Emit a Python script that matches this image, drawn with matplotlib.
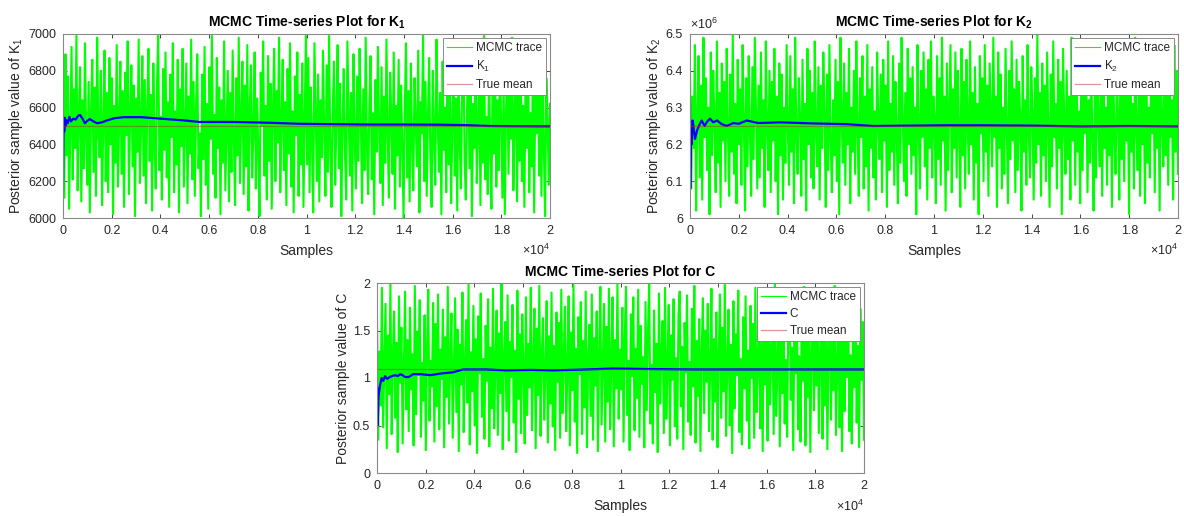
import numpy as np
import matplotlib
matplotlib.use('Agg')
import matplotlib.pyplot as plt
from matplotlib.ticker import FuncFormatter, MultipleLocator

plt.rcParams['font.family'] = ['Liberation Sans', 'DejaVu Sans']
plt.rcParams['mathtext.fontset'] = 'custom'
plt.rcParams['mathtext.rm'] = 'Liberation Sans'
plt.rcParams['mathtext.bf'] = 'Liberation Sans:bold'

# cadenas MCMC (muestras aclaradas)
k1_trace = [
    6620, 6110, 6890, 6340, 6770, 6050, 6480, 6930, 6210, 6700,
    6380, 6990, 6150, 6560, 6820, 6090, 6640, 6270, 6950, 6420,
    6180, 6740, 6030, 6590, 6860, 6250, 6710, 6120, 6980, 6460,
    6330, 6800, 6070, 6520, 6910, 6200, 6680, 6140, 6870, 6400,
    6760, 6020, 6610, 6300, 6940, 6170, 6530, 6850, 6240, 6690,
    6060, 6790, 6450, 6960, 6130, 6570, 6830, 6280, 6720, 6010,
    6650, 6360, 6970, 6190, 6500, 6880, 6230, 6750, 6080, 6600,
    6920, 6310, 6670, 6040, 6840, 6410, 6160, 6730, 6990, 6260,
    6550, 6100, 6810, 6370, 6900, 6220, 6630, 6060, 6780, 6440,
    6950, 6140, 6580, 6290, 6860, 6030, 6700, 6390, 6920, 6170,
    6510, 6840, 6080, 6660, 6350, 6970, 6210, 6740, 6120, 6600,
    6890, 6270, 6460, 6010, 6780, 6320, 6930, 6180, 6620, 6050,
    6820, 6430, 6990, 6240, 6560, 6110, 6870, 6380, 6710, 6020,
    6640, 6300, 6960, 6150, 6490, 6800, 6090, 6680, 6250, 6910,
    6420, 6070, 6760, 6340, 6980, 6190, 6540, 6850, 6130, 6720,
    6280, 6940, 6040, 6590, 6830, 6220, 6470, 6900, 6160, 6650,
    6370, 6010, 6790, 6500, 6960, 6230, 6610, 6100, 6880, 6310,
    6730, 6050, 6570, 6920, 6200, 6690, 6410, 6980, 6140, 6520,
    6860, 6260, 6630, 6070, 6810, 6350, 6950, 6170, 6580, 6030,
    6770, 6450, 6900, 6120, 6670, 6290, 6840, 6060, 6530, 6990,
    6290, 6870, 6140, 6710, 6420, 6030, 6950, 6560, 6200, 6780,
    6090, 6640, 6330, 6910, 6470, 6120, 6830, 6250, 6990, 6380,
    6060, 6600, 6850, 6180, 6520, 6940, 6270, 6730, 6010, 6490,
    6810, 6350, 6100, 6960, 6590, 6230, 6680, 6040, 6890, 6430,
    6160, 6770, 6310, 6920, 6540, 6080, 6700, 6260, 6980, 6400,
    6130, 6620, 6880, 6210, 6570, 6020, 6750, 6360, 6930, 6480,
    6190, 6820, 6070, 6660, 6300, 6970, 6450, 6110, 6790, 6550,
    6240, 6900, 6050, 6610, 6340, 6860, 6170, 6720, 6410, 6000,
    6580, 6950, 6220, 6690, 6090, 6840, 6390, 6150, 6760, 6500,
    6280, 6910, 6030, 6630, 6460, 6990, 6200, 6740, 6120, 6560,
    6870, 6320, 6060, 6800, 6440, 6180, 6970, 6530, 6250, 6680,
    6020, 6850, 6370, 6600, 6140, 6920, 6290, 6770, 6080, 6510,
    6890, 6230, 6650, 6040, 6830, 6420, 6160, 6710, 6960, 6330,
    6100, 6580, 6880, 6270, 6730, 6010, 6620, 6380, 6940, 6190,
    6470, 6810, 6070, 6690, 6300, 6990, 6210, 6550, 6130, 6860,
    6400, 6050, 6780, 6350, 6930, 6170, 6640, 6260, 6900, 6490,
    6110, 6750, 6020, 6590, 6830, 6240, 6700, 6430, 6980, 6150,
    6540, 6870, 6090, 6660, 6310, 6950, 6200, 6610, 6060, 6800,
    6380, 6920, 6140, 6570, 6280, 6840, 6030, 6720, 6460, 6970,
    6230, 6680, 6120, 6890, 6360, 6010, 6760, 6520, 6180, 6620]

# K2 en millones
k2_trace_mil = [
    6.41, 6.08, 6.33, 6.19, 6.47, 6.02, 6.28, 6.44, 6.11, 6.36,
    6.05, 6.49, 6.22, 6.38, 6.13, 6.30, 6.01, 6.45, 6.17, 6.40,
    6.26, 6.07, 6.48, 6.15, 6.34, 6.03, 6.42, 6.21, 6.37, 6.10,
    6.46, 6.24, 6.06, 6.39, 6.18, 6.50, 6.12, 6.31, 6.04, 6.43,
    6.20, 6.35, 6.09, 6.47, 6.27, 6.02, 6.38, 6.14, 6.44, 6.23,
    6.06, 6.41, 6.16, 6.49, 6.29, 6.08, 6.36, 6.11, 6.45, 6.19,
    6.32, 6.03, 6.48, 6.25, 6.13, 6.40, 6.07, 6.37, 6.21, 6.46,
    6.10, 6.33, 6.01, 6.42, 6.17, 6.39, 6.05, 6.30, 6.15, 6.47,
    6.24, 6.09, 6.44, 6.18, 6.35, 6.04, 6.49, 6.22, 6.12, 6.38,
    6.27, 6.06, 6.43, 6.16, 6.31, 6.02, 6.46, 6.20, 6.40, 6.11,
    6.34, 6.08, 6.48, 6.23, 6.14, 6.41, 6.05, 6.36, 6.19, 6.45,
    6.28, 6.03, 6.39, 6.13, 6.47, 6.21, 6.07, 6.32, 6.17, 6.43,
    6.10, 6.37, 6.01, 6.49, 6.26, 6.15, 6.42, 6.09, 6.34, 6.20,
    6.46, 6.04, 6.30, 6.18, 6.40, 6.12, 6.48, 6.24, 6.06, 6.38,
    6.22, 6.44, 6.08, 6.33, 6.14, 6.47, 6.02, 6.35, 6.19, 6.41,
    6.11, 6.29, 6.05, 6.45, 6.25, 6.16, 6.39, 6.07, 6.43, 6.21,
    6.36, 6.03, 6.48, 6.13, 6.31, 6.18, 6.44, 6.09, 6.37, 6.23,
    6.04, 6.42, 6.15, 6.49, 6.27, 6.10, 6.34, 6.06, 6.46, 6.20,
    6.38, 6.12, 6.41, 6.17, 6.30, 6.01, 6.47, 6.24, 6.08, 6.40,
    6.22, 6.45, 6.14, 6.35, 6.05, 6.43, 6.19, 6.48, 6.11, 6.33,
    6.27, 6.04, 6.44, 6.16, 6.38, 6.09, 6.49, 6.21, 6.33, 6.02,
    6.42, 6.13, 6.30, 6.47, 6.07, 6.35, 6.19, 6.45, 6.11, 6.40,
    6.24, 6.03, 6.46, 6.17, 6.37, 6.08, 6.43, 6.26, 6.12, 6.48,
    6.20, 6.34, 6.05, 6.41, 6.15, 6.31, 6.01, 6.44, 6.23, 6.38,
    6.10, 6.47, 6.18, 6.36, 6.06, 6.42, 6.28, 6.14, 6.49, 6.22,
    6.33, 6.03, 6.45, 6.19, 6.39, 6.08, 6.30, 6.12, 6.46, 6.25,
    6.04, 6.40, 6.16, 6.48, 6.21, 6.35, 6.07, 6.43, 6.13, 6.37,
    6.27, 6.02, 6.44, 6.18, 6.32, 6.09, 6.47, 6.23, 6.11, 6.41,
    6.29, 6.05, 6.38, 6.15, 6.50, 6.20, 6.34, 6.06, 6.42, 6.17,
    6.36, 6.10, 6.45, 6.24, 6.03, 6.39, 6.14, 6.48, 6.22, 6.31,
    6.08, 6.43, 6.19, 6.37, 6.01, 6.46, 6.26, 6.12, 6.40, 6.16,
    6.33, 6.05, 6.49, 6.21, 6.35, 6.09, 6.44, 6.18, 6.29, 6.04,
    6.41, 6.13, 6.47, 6.23, 6.38, 6.07, 6.32, 6.15, 6.45, 6.20,
    6.02, 6.36, 6.11, 6.48, 6.25, 6.14, 6.42, 6.06, 6.39, 6.19,
    6.30, 6.09, 6.46, 6.17, 6.34, 6.03, 6.43, 6.22, 6.12, 6.40,
    6.27, 6.05, 6.47, 6.16, 6.37, 6.10, 6.44, 6.21, 6.33, 6.01,
    6.45, 6.18, 6.31, 6.08, 6.49, 6.24, 6.13, 6.38, 6.06, 6.42,
    6.20, 6.35, 6.04, 6.46, 6.15, 6.30, 6.11, 6.43, 6.23, 6.39,
    6.07, 6.48, 6.19, 6.34, 6.02, 6.41, 6.26, 6.14, 6.45, 6.17,
    6.36, 6.09, 6.44, 6.22, 6.32, 6.05, 6.47, 6.18, 6.40, 6.12]

c_trace = [
    1.62, 0.35, 1.28, 0.71, 1.95, 0.48, 1.12, 1.78, 0.26, 1.45,
    0.83, 1.99, 0.41, 1.21, 1.70, 0.58, 1.37, 0.22, 1.86, 0.95,
    1.53, 0.31, 1.08, 1.91, 0.67, 1.40, 0.44, 1.74, 0.88, 1.25,
    0.29, 1.97, 0.62, 1.49, 1.03, 1.82, 0.38, 1.16, 0.76, 1.66,
    0.24, 1.33, 1.93, 0.55, 1.18, 0.91, 1.79, 0.33, 1.57, 0.70,
    1.88, 0.46, 1.30, 0.99, 1.72, 0.27, 1.43, 0.80, 1.96, 0.52,
    1.24, 1.68, 0.37, 1.10, 1.84, 0.64, 1.51, 0.23, 1.35, 0.93,
    1.90, 0.43, 1.14, 1.61, 0.74, 1.98, 0.30, 1.27, 0.86, 1.76,
    0.50, 1.41, 0.21, 1.65, 1.05, 1.89, 0.59, 1.20, 0.36, 1.55,
    0.97, 1.83, 0.28, 1.32, 0.68, 1.94, 0.47, 1.15, 1.71, 0.40,
    1.47, 0.84, 1.99, 0.25, 1.22, 1.59, 0.65, 1.87, 0.34, 1.38,
    1.01, 1.77, 0.53, 1.29, 0.22, 1.92, 0.78, 1.46, 0.42, 1.67,
    1.07, 0.31, 1.85, 0.61, 1.36, 0.90, 1.95, 0.45, 1.19, 1.73,
    0.26, 1.52, 0.82, 1.97, 0.39, 1.26, 1.63, 0.56, 1.09, 1.81,
    0.32, 1.44, 0.73, 1.90, 0.49, 1.34, 0.24, 1.69, 0.96, 1.58,
    0.37, 1.93, 0.63, 1.23, 1.75, 0.44, 1.11, 1.86, 0.29, 1.48,
    0.87, 1.98, 0.54, 1.31, 0.21, 1.64, 1.04, 1.80, 0.41, 1.39,
    0.69, 1.91, 0.27, 1.17, 1.56, 0.60, 1.88, 0.35, 1.42, 0.92,
    1.70, 0.23, 1.27, 1.96, 0.51, 1.13, 1.78, 0.33, 1.54, 0.75,
    1.94, 0.46, 1.21, 1.85, 0.28, 1.40, 0.89, 1.99, 0.57, 1.30,
    0.88, 1.74, 0.33, 1.42, 1.96, 0.61, 1.18, 0.24, 1.67, 1.02,
    1.85, 0.45, 1.31, 0.79, 1.93, 0.38, 1.55, 0.94, 1.22, 0.27,
    1.80, 0.66, 1.48, 1.99, 0.52, 1.14, 0.31, 1.71, 0.85, 1.36,
    0.22, 1.89, 0.73, 1.26, 1.60, 0.42, 1.95, 0.57, 1.09, 1.77,
    0.29, 1.45, 0.98, 1.83, 0.49, 1.21, 0.36, 1.66, 1.91, 0.70,
    1.33, 0.25, 1.58, 1.06, 1.87, 0.54, 1.17, 0.40, 1.73, 0.91,
    1.97, 0.32, 1.39, 0.81, 1.62, 0.23, 1.28, 1.84, 0.63, 1.50,
    0.96, 1.78, 0.44, 1.12, 1.94, 0.35, 1.41, 0.75, 1.69, 0.27,
    1.24, 1.88, 0.58, 1.53, 0.86, 1.98, 0.39, 1.16, 1.72, 0.50,
    1.35, 0.21, 1.81, 0.68, 1.46, 1.03, 1.92, 0.43, 1.20, 0.30,
    1.64, 0.89, 1.86, 0.55, 1.29, 0.26, 1.76, 1.00, 1.57, 0.37,
    1.95, 0.64, 1.13, 1.82, 0.47, 1.37, 0.23, 1.70, 0.93, 1.44,
    0.34, 1.90, 0.72, 1.25, 1.61, 0.41, 1.99, 0.60, 1.07, 1.79,
    0.28, 1.49, 0.84, 1.87, 0.52, 1.19, 0.38, 1.68, 1.93, 0.77,
    1.32, 0.24, 1.56, 1.05, 1.84, 0.46, 1.23, 0.33, 1.75, 0.97,
    1.96, 0.29, 1.40, 0.80, 1.63, 0.22, 1.27, 1.89, 0.66, 1.52,
    0.92, 1.80, 0.42, 1.15, 1.94, 0.36, 1.43, 0.71, 1.72, 0.25,
    1.30, 1.86, 0.56, 1.54, 0.87, 1.97, 0.40, 1.10, 1.77, 0.48,
    1.38, 0.23, 1.83, 0.65, 1.47, 1.01, 1.91, 0.44, 1.24, 0.31,
    1.66, 0.90, 1.88, 0.53, 1.34, 0.27, 1.73, 0.98, 1.59, 0.35]

# media acumulada de cada parametro
k1_mean_x = [0, 15, 30, 50, 80, 110, 150, 200, 260, 330, 420, 520, 620, 700,
             800, 900, 1000, 1100, 1250, 1400, 1600, 1800, 2100, 2500, 3200,
             4000, 5000, 5600, 7000, 8400, 9700, 11000, 12500, 14000, 15500,
             16500, 17500, 18500, 20000]
k1_mean = [6150, 6420, 6520, 6470, 6545, 6500, 6530, 6515, 6550, 6525, 6540,
           6535, 6555, 6560, 6540, 6515, 6528, 6538, 6525, 6515, 6520, 6530,
           6542, 6548, 6548, 6540, 6530, 6522, 6522, 6518, 6512, 6510, 6508,
           6508, 6507, 6505, 6500, 6499, 6498]

k2_mean_x = [0, 10, 30, 60, 110, 160, 205, 300, 400, 480, 600, 700, 820, 950,
             1110, 1300, 1500, 1780, 2000, 2320, 2800, 3690, 5050, 6420, 7500,
             9000, 10500, 12000, 14000, 16000, 18000, 20000]
k2_mean_mil = [6.310, 6.080, 6.230, 6.200, 6.265, 6.240, 6.215, 6.240, 6.255,
               6.265, 6.250, 6.262, 6.270, 6.260, 6.265, 6.255, 6.250, 6.258,
               6.256, 6.265, 6.258, 6.260, 6.257, 6.255, 6.250, 6.251, 6.252,
               6.252, 6.251, 6.249, 6.250, 6.249]

c_mean_x = [0, 10, 20, 27, 60, 120, 190, 260, 330, 420, 520, 620, 740, 850,
            950, 1050, 1150, 1300, 1480, 1800, 2180, 2450, 2710, 3120, 3530,
            4480, 5300, 6300, 7230, 8620, 9690, 11000, 13000, 15000, 17000, 20000]
c_mean = [0.70, 0.90, 0.75, 0.50, 0.80, 0.92, 1.00, 0.97, 1.02, 0.99, 1.01,
          1.02, 1.03, 1.02, 1.04, 1.03, 1.01, 1.01, 1.04, 1.04, 1.03, 1.04,
          1.05, 1.06, 1.09, 1.09, 1.08, 1.085, 1.08, 1.09, 1.10, 1.095, 1.09,
          1.09, 1.09, 1.09]

true_means = [6500, 6.25e6, 1.09]
n_samples = 20000

TXT = '#262626'
W, H = 1184, 516
fig = plt.figure(figsize=(W / 100, H / 100), dpi=100)


def caja(l, r, t, b):
    return fig.add_axes([l / W, (H - b) / H, (r - l) / W, (b - t) / H])


def panel(ax, traza, mx, my, mu, nombre, titulo, ylim, ystep, yscale=None):
    xs = np.linspace(0, n_samples, len(traza))
    ax.plot(xs, traza, color=(0, 1, 0), lw=1.5, label='MCMC trace')
    ax.plot(mx, my, color=(0, 0, 1), lw=1.6, label=nombre)
    ax.axhline(mu, color=(0.7, 0.2, 0.2), alpha=0.5, lw=0.9, label='True mean')
    ax.set_xlim(0, n_samples)
    ax.set_ylim(*ylim)
    ax.xaxis.set_major_locator(MultipleLocator(2000))
    ax.yaxis.set_major_locator(MultipleLocator(ystep))
    ax.xaxis.set_major_formatter(FuncFormatter(lambda v, p: f'{v / 1e4:g}'))
    esc = yscale or 1
    ax.yaxis.set_major_formatter(FuncFormatter(lambda v, p: f'{v / esc:g}'))
    ax.tick_params(direction='in', length=3, width=0.6, colors=TXT,
                   labelsize=9, pad=5, top=True, right=True)
    for s in ax.spines.values():
        s.set_color('#8a8a8a')
        s.set_linewidth(0.8)
    ax.set_xlabel('Samples', fontsize=10, color=TXT, labelpad=5)
    ax.set_ylabel('Posterior sample value of ' + nombre, fontsize=10,
                  color=TXT, labelpad=2)
    ax.set_title(titulo, fontsize=10, fontweight='bold', color='black', pad=5)
    ax.text(1.0, -0.175, r'$\times10^{4}$', transform=ax.transAxes,
            ha='right', va='center', fontsize=9, color=TXT)
    if yscale:
        ax.text(0.0, 1.01, r'$\times10^{6}$', transform=ax.transAxes,
                ha='left', va='bottom', fontsize=9, color=TXT)
    leg = ax.legend(loc='upper right', fontsize=8.5, fancybox=False,
                    framealpha=1, edgecolor='#8a8a8a', borderaxespad=0.35,
                    handlelength=2.1, handletextpad=0.3, labelspacing=0.4,
                    borderpad=0.35)
    leg.get_frame().set_linewidth(0.7)
    leg.get_lines()[0].set_linewidth(0.8)
    for t in leg.get_texts():
        t.set_color(TXT)


ax1 = caja(63, 550, 34, 218)
panel(ax1, k1_trace, k1_mean_x, k1_mean, true_means[0], 'K$_{1}$',
      r'MCMC Time-series Plot for K$_\mathbf{1}$', (6000, 7000), 200)

ax2 = caja(690, 1178, 34, 218)
panel(ax2, np.array(k2_trace_mil) * 1e6, k2_mean_x,
      np.array(k2_mean_mil) * 1e6, true_means[1], 'K$_{2}$',
      r'MCMC Time-series Plot for K$_\mathbf{2}$',
      (6.0e6, 6.5e6), 0.1e6, yscale=1e6)

ax3 = caja(377, 864, 283, 473)
panel(ax3, c_trace, c_mean_x, c_mean, true_means[2], 'C',
      'MCMC Time-series Plot for C', (0, 2), 0.5)

fig.savefig('out.png', dpi=100, facecolor='white')
